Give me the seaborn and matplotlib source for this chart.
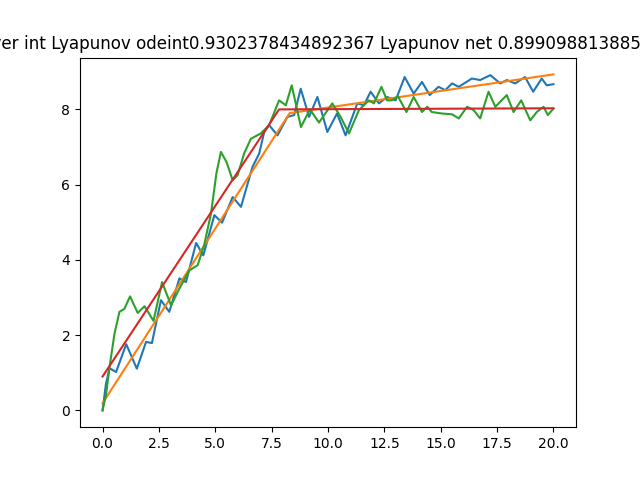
import matplotlib
matplotlib.use("Agg")
import matplotlib.pyplot as plt
import seaborn as sns

# trajectory (blue)
blue_x = [0, 0.15, 0.31, 0.6, 1.05, 1.52, 1.93, 2.19, 2.59, 2.96, 3.41, 3.7, 4.15,
          4.47, 4.96, 5.3, 5.77, 6.14, 6.65, 6.95, 7.17, 7.39, 7.76, 8.2, 8.5, 8.79,
          9.16, 9.53, 9.97, 10.4, 10.78, 11.3, 11.59, 11.89, 12.26, 12.62, 13.0, 13.4,
          13.8, 14.17, 14.51, 14.9, 15.2, 15.5, 15.8, 16.38, 16.75, 17.2, 17.64, 17.93,
          18.3, 18.74, 19.1, 19.48, 19.7, 20.0]
blue_y = [0, 0.7, 1.12, 1.02, 1.76, 1.11, 1.82, 1.79, 2.93, 2.62, 3.51, 3.41, 4.45,
          4.12, 5.19, 4.99, 5.67, 5.41, 6.47, 6.83, 7.4, 7.58, 7.31, 7.8, 7.85, 8.55,
          7.8, 8.33, 7.4, 7.89, 7.31, 8.16, 8.11, 8.47, 8.16, 8.33, 8.24, 8.86,
          8.42, 8.73, 8.38, 8.6, 8.51, 8.69, 8.6, 8.82, 8.78, 8.91, 8.69, 8.78,
          8.69, 8.86, 8.47, 8.82, 8.64, 8.67]

# network prediction (green)
green_x = [0, 0.15, 0.31, 0.53, 0.75, 0.97, 1.22, 1.56, 1.86, 2.26, 2.64, 3.04, 3.41,
           3.85, 4.22, 4.51, 4.81, 5.05, 5.25, 5.5, 5.77, 5.99, 6.28, 6.58, 7.02, 7.39,
           7.83, 8.13, 8.39, 8.8, 9.2, 9.6, 10.19, 10.56, 10.93, 11.37, 11.81, 12.04,
           12.37, 12.62, 12.84, 13.1, 13.48, 13.8, 14.17, 14.4, 14.6, 15.06, 15.5, 15.8,
           16.17, 16.46, 16.75, 17.12, 17.42, 17.93, 18.23, 18.57, 18.97, 19.26, 19.56,
           19.75, 20.0]
green_y = [0, 0.4, 1.15, 2.04, 2.62, 2.7, 3.03, 2.59, 2.77, 2.38, 3.41, 2.79, 3.24,
           3.72, 3.86, 4.4, 5.23, 6.3, 6.87, 6.6, 6.12, 6.25, 6.83, 7.22, 7.36, 7.58,
           8.24, 8.11, 8.64, 7.53, 8.0, 7.65, 8.16, 7.8, 7.36, 7.98, 8.24, 8.16,
           8.6, 8.24, 8.24, 8.35, 7.93, 8.33, 7.93, 8.07, 7.93, 7.89, 7.87, 7.76,
           8.07, 7.98, 7.76, 8.47, 8.07, 8.38, 7.93, 8.24, 7.71, 7.93, 8.07,
           7.85, 8.02]

# piecewise linear fits
orange_x = [0, 8.3, 20]
orange_y = [0.19, 7.9, 8.93]
red_x = [0, 7.83, 20]
red_y = [0.9, 8.0, 8.03]

lyap_odeint = 0.9302378434892367
lyap_net = 0.8990988138851234

fig, ax = plt.subplots(figsize=(6.4, 4.8), dpi=100)

sns.lineplot(x=blue_x, y=blue_y, ax=ax, color="C0", sort=False)
sns.lineplot(x=orange_x, y=orange_y, ax=ax, color="C1", sort=False)
sns.lineplot(x=green_x, y=green_y, ax=ax, color="C2", sort=False)
sns.lineplot(x=red_x, y=red_y, ax=ax, color="C3", sort=False)

ax.set_title("Layer int Lyapunov odeint" + str(lyap_odeint) + " Lyapunov net " + str(lyap_net),
             fontsize=12.1)

plt.savefig("out.png", dpi=100)
plt.close()
